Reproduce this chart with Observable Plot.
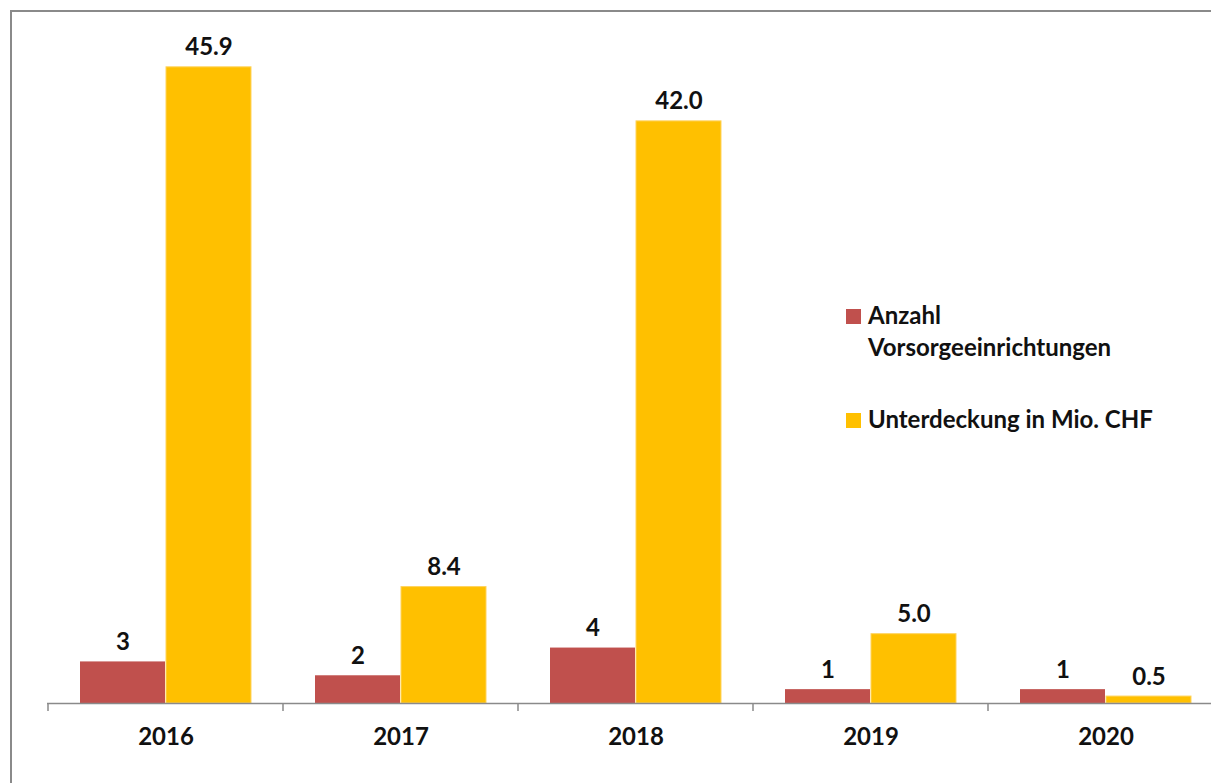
<!DOCTYPE html>
<html>
<head>
<meta charset="utf-8">
<script src="https://cdn.jsdelivr.net/npm/d3@7"></script>
<script src="https://cdn.jsdelivr.net/npm/@observablehq/plot@0.6"></script>
<style>
  html, body { margin: 0; padding: 0; background: #fff; }
  #wrap { position: relative; width: 1211px; height: 783px; overflow: hidden; font-family: Lato, "Open Sans", sans-serif; }
  #border { position: absolute; left: 10px; top: 10px; width: 1400px; height: 1000px; border: 2px solid #8a8a8a; box-sizing: border-box; }
  #chart { position: absolute; left: 0; top: 0; }
  #legend { position: absolute; left: 846px; top: 299px; font-weight: 700; font-size: 24px; color: #111; line-height: 32px; }
  .item { display: flex; align-items: flex-start; }
  .sw { width: 15px; height: 15px; margin-top: 10px; margin-right: 7px; flex: none; }
</style>
</head>
<body>
<div id="wrap">
  <div id="border"></div>
  <div id="chart"></div>
  <div id="legend"></div>
</div>
<script>
const years = ["2016", "2017", "2018", "2019", "2020"];
const anzahl = [3, 2, 4, 1, 1];
const unterdeckung = [45.9, 8.4, 42.0, 5.0, 0.5];
const seriesNames = ["Anzahl Vorsorgeeinrichtungen", "Unterdeckung in Mio. CHF"];
const seriesColors = ["#C0504D", "#FFC000"];

const redData = years.map((y, i) => ({year: y, value: anzahl[i], label: String(anzahl[i])}));
const goldData = years.map((y, i) => ({year: y, value: unterdeckung[i], label: unterdeckung[i].toFixed(1)}));

const groupTicks = (index, scales, values, dimensions) => {
  const g = d3.create("svg:g");
  const x = scales.x;
  const y0 = scales.y(0);
  years.forEach(yr => {
    const xx = x(yr);
    g.append("line").attr("x1", xx).attr("x2", xx).attr("y1", y0).attr("y2", y0 + 8)
      .attr("stroke", "#8a8a8a").attr("stroke-width", 1.5);
  });
  return g.node();
};

const chart = Plot.plot({
  width: 1211,
  height: 783,
  marginLeft: 47,
  marginRight: 0,
  marginTop: 10,
  marginBottom: 80,
  style: {fontFamily: "Lato, 'Open Sans', sans-serif", overflow: "visible", background: "transparent"},
  x: {domain: years, range: [47, 1223], padding: 0, label: null},
  y: {domain: [0, 50], axis: null},
  marks: [
    Plot.barY(redData, {x: "year", y: "value", fill: seriesColors[0], insetLeft: 32, insetRight: 118}),
    Plot.barY(goldData, {x: "year", y: "value", fill: seriesColors[1], stroke: "#ffd35c", strokeWidth: 1, insetLeft: 118, insetRight: 32}),
    Plot.text(redData, {x: "year", y: "value", text: "label", dx: -43, dy: -12, lineAnchor: "bottom", fontSize: 24, fontWeight: 700, fill: "#111"}),
    Plot.text(goldData, {x: "year", y: "value", text: "label", dx: 43, dy: -12, lineAnchor: "bottom", fontSize: 24, fontWeight: 700, fill: "#111"}),
    Plot.ruleY([0], {stroke: "#8a8a8a", strokeWidth: 1.5}),
    groupTicks,
    Plot.axisX({tickSize: 0, tickPadding: 24, fontSize: 24, fontWeight: 700, fill: "#111", label: null})
  ]
});
document.getElementById("chart").appendChild(chart);

const legend = document.getElementById("legend");
legend.innerHTML = `
  <div class="item"><div class="sw" style="background:${seriesColors[0]}"></div><div>Anzahl<br>Vorsorgeeinrichtungen</div></div>
  <div class="item" style="margin-top:40px"><div class="sw" style="background:${seriesColors[1]}"></div><div>${seriesNames[1]}</div></div>
`;
</script>
</body>
</html>
